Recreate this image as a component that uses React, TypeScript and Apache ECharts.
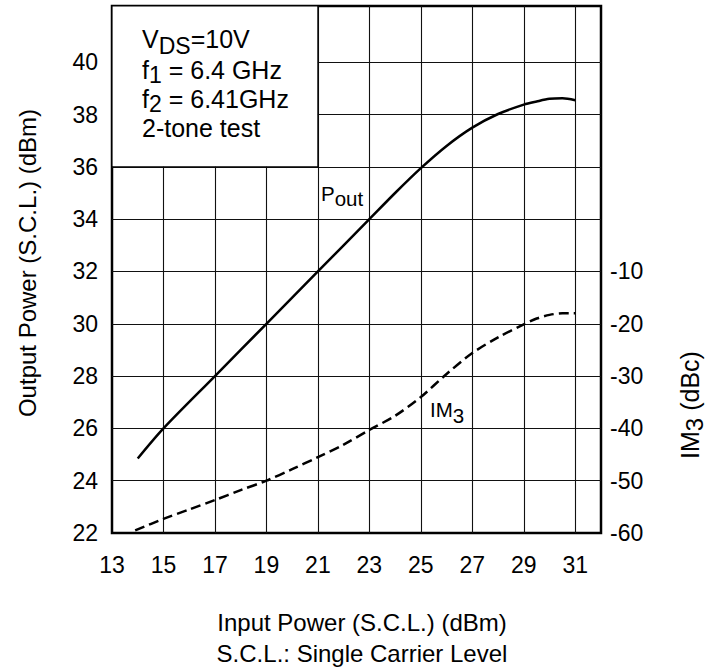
import React, { useEffect, useRef } from "react";
import * as echarts from "echarts";

// Pout (dBm) vs input power (dBm), left axis
const poutInput = [14, 15, 17, 19, 21, 23, 24, 25, 26, 27, 28, 29, 29.5, 30, 30.5, 31];
const poutValues = [24.85, 26, 28, 30, 32, 34, 35, 35.95, 36.8, 37.5, 38.02, 38.38, 38.5, 38.6, 38.62, 38.55];

// IM3 (dBc) vs input power (dBm), right axis
const im3Input = [13.9, 15, 16, 17, 18, 19, 20, 21, 22, 23, 24, 25, 26, 27, 28, 29, 29.5, 30, 30.5, 31];
const im3Values = [-59.5, -57.3, -55.5, -53.7, -51.8, -50, -47.8, -45.5, -43.1, -40.3, -37.6, -34, -29.6, -25.6, -22.6, -20.1, -19, -18.3, -18, -18];

// tick labels
const xTickLabels = [13, 15, 17, 19, 21, 23, 25, 27, 29, 31];
const leftTickLabels = [22, 24, 26, 28, 30, 32, 34, 36, 38, 40];
const rightTickLabels = [-60, -50, -40, -30, -20, -10];

const FONT_NAME = "Liberation Sans";
const FONT = "'Liberation Sans', Arial, Helvetica, sans-serif";
const MID = 0.355; // baseline offset from text middle, in em

type Part = { t: string; sub?: boolean };

let measureCtx: CanvasRenderingContext2D | null = null;
function measure(text: string, size: number): number {
  if (!measureCtx) measureCtx = document.createElement("canvas").getContext("2d");
  if (!measureCtx) return text.length * size * 0.55;
  measureCtx.font = `${size}px "${FONT_NAME}", Arial, sans-serif`;
  return measureCtx.measureText(text).width;
}

// Builds text pieces on one baseline, subscripts lowered
function richLine(
  parts: Part[],
  size: number,
  subSize: number,
  subShift: number,
  baseline: number,
  startX: number
): any[] {
  let cx = startX;
  const out: any[] = [];
  for (const p of parts) {
    const fs = p.sub ? subSize : size;
    out.push({
      type: "text",
      x: cx,
      y: baseline + (p.sub ? subShift : 0) - MID * fs,
      z: 100,
      style: {
        text: p.t,
        fontSize: fs,
        lineHeight: Math.round(fs * 0.8),
        fontFamily: FONT,
        fill: "#000",
        align: "left",
        verticalAlign: "middle",
      },
    });
    cx += measure(p.t, fs);
  }
  return out;
}

function lineWidth(parts: Part[], size: number, subSize: number): number {
  return parts.reduce((s, p) => s + measure(p.t, p.sub ? subSize : size), 0);
}

export default function App() {
  const ref = useRef<HTMLDivElement>(null);

  useEffect(() => {
    document.body.style.margin = "0";
    const el = ref.current!;
    const chart = echarts.init(el, null, { renderer: "svg" });

    const yMin = 22;
    const yMax = 42.15;
    const rMin = -60;
    const rMax = rMin + (yMax - yMin) * 5;

    // 9 visible lines (24..40) then hide 42
    const hColors = [...leftTickLabels.slice(1).map(() => "#111"), "rgba(0,0,0,0)"];

    const legendEls = [
      ...richLine([{ t: "V" }, { t: "DS", sub: true }, { t: "=10V" }], 25, 23, 6, 48.3, 142),
      ...richLine([{ t: "f" }, { t: "1", sub: true }, { t: " = 6.4 GHz" }], 25, 23, 4.3, 79, 142),
      ...richLine([{ t: "f" }, { t: "2", sub: true }, { t: " = 6.41GHz" }], 25, 23, 4.3, 108.3, 142),
      ...richLine([{ t: "2-tone test" }], 25, 23, 0, 137, 142),
    ];

    const poutLabel = richLine([{ t: "P" }, { t: "out", sub: true }], 20.5, 20.5, 5, 201, 321);
    const im3Label = richLine([{ t: "IM" }, { t: "3", sub: true }], 20.5, 20.5, 6.5, 416.7, 430);

    const rightTitleParts: Part[] = [{ t: "IM" }, { t: "3", sub: true }, { t: " (dBc)" }];
    const rtw = lineWidth(rightTitleParts, 25, 24);
    const rightTitle = {
      type: "group",
      x: 690,
      y: 405,
      rotation: Math.PI / 2,
      children: richLine(rightTitleParts, 25, 24, 4, MID * 25, -rtw / 2),
    };

    const option: any = {
      animation: false,
      backgroundColor: "#fff",
      grid: {
        left: 112,
        right: 117,
        top: 6,
        bottom: 138,
        show: true,
        borderColor: "#000",
        borderWidth: 2.5,
        backgroundColor: "transparent",
      },
      xAxis: {
        type: "value",
        min: 13,
        max: 32,
        interval: 2,
        axisLine: { show: false },
        axisTick: { show: false },
        axisLabel: {
          margin: 20,
          fontSize: 23,
          color: "#000",
          fontFamily: FONT,
          formatter: (v: number) => (xTickLabels.includes(v) ? String(v) : ""),
        },
        splitLine: {
          show: true,
          showMinLine: false,
          showMaxLine: false,
          lineStyle: { color: "#111", width: 1.1 },
        },
      },
      yAxis: [
        {
          type: "value",
          min: yMin,
          max: yMax,
          interval: 2,
          axisLine: { show: false },
          axisTick: { show: false },
          axisLabel: {
            margin: 14,
            fontSize: 23,
            color: "#000",
            fontFamily: FONT,
            formatter: (v: number) => (leftTickLabels.includes(v) ? String(v) : ""),
          },
          splitLine: {
            show: true,
            showMinLine: false,
            showMaxLine: false,
            lineStyle: { color: hColors, width: 1.1 },
          },
        },
        {
          type: "value",
          min: rMin,
          max: rMax,
          interval: 10,
          position: "right",
          axisLine: { show: false },
          axisTick: { show: false },
          splitLine: { show: false },
          axisLabel: {
            margin: 9,
            fontSize: 23,
            color: "#000",
            fontFamily: FONT,
            formatter: (v: number) => (rightTickLabels.includes(v) ? String(v) : ""),
          },
        },
      ],
      series: [
        {
          name: "Pout",
          type: "line",
          xAxisIndex: 0,
          yAxisIndex: 0,
          data: poutInput.map((x, i) => [x, poutValues[i]]),
          showSymbol: false,
          smooth: 0.3,
          lineStyle: { color: "#000", width: 2.5 },
          markArea: {
            silent: true,
            itemStyle: { color: "#fff", borderColor: "#000", borderWidth: 1.2 },
            data: [[{ coord: [13, 36] }, { coord: [21, yMax] }]],
          },
        },
        {
          name: "IM3",
          type: "line",
          xAxisIndex: 0,
          yAxisIndex: 1,
          data: im3Input.map((x, i) => [x, im3Values[i]]),
          showSymbol: false,
          smooth: 0.3,
          lineStyle: { color: "#000", width: 2.5, type: [10, 5] },
        },
      ],
      graphic: [
        ...legendEls,
        ...poutLabel,
        ...im3Label,
        rightTitle,
        {
          type: "text",
          x: 27,
          y: 263,
          rotation: Math.PI / 2,
          style: {
            text: "Output Power (S.C.L.) (dBm)",
            fontSize: 24,
            fontFamily: FONT,
            fill: "#000",
            align: "center",
            verticalAlign: "middle",
          },
        },
        {
          type: "text",
          x: 362,
          y: 622.5,
          style: {
            text: "Input Power (S.C.L.) (dBm)",
            fontSize: 24,
            fontFamily: FONT,
            fill: "#000",
            align: "center",
            verticalAlign: "middle",
          },
        },
        {
          type: "text",
          x: 362,
          y: 653.5,
          style: {
            text: "S.C.L.: Single Carrier Level",
            fontSize: 24,
            fontFamily: FONT,
            fill: "#000",
            align: "center",
            verticalAlign: "middle",
          },
        },
      ],
    };

    chart.setOption(option);
    return () => chart.dispose();
  }, []);

  return (
    <div
      ref={ref}
      style={{ position: "fixed", left: 0, top: 0, width: 718, height: 671 }}
    />
  );
}
